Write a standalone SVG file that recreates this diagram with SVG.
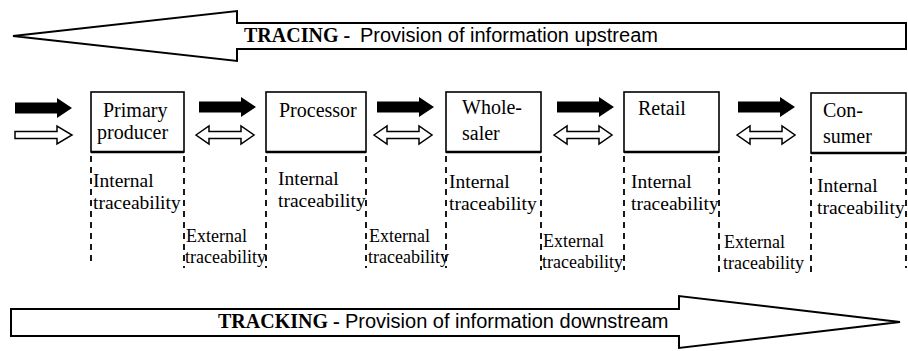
<svg xmlns="http://www.w3.org/2000/svg" width="908" height="351" viewBox="0 0 908 351">
<defs>
<style>
.big{fill:#fff;stroke:#000;stroke-width:2;stroke-linejoin:miter}
.box{fill:#fff;stroke:#000;stroke-width:1.6}
.bb{stroke:#000;stroke-width:2.6}
.dash{stroke:#000;stroke-width:1.8;stroke-dasharray:6 5;fill:none}
.bt{font-family:"Liberation Serif","Times New Roman",serif;font-size:20px;fill:#000}
.tt{font-family:"Liberation Serif","Times New Roman",serif;font-size:19.5px;fill:#000}
.et{font-family:"Liberation Serif","Times New Roman",serif;font-size:18px;fill:#000}
.hb{font-family:"Liberation Serif","Times New Roman",serif;font-size:20px;font-weight:bold;fill:#000}
.hs{font-family:"Liberation Sans",Arial,sans-serif;font-size:20px;fill:#000}
.blk{fill:#000}
.wht{fill:#fff;stroke:#000;stroke-width:1.5}
</style>
<path id="ba" d="M0,-5.5 H42 V-10 L57,0 L42,10 V5.5 H0 Z"/>
<path id="wa" d="M0,-3.5 H42 V-9 L57,0 L42,9 V3.5 H0 Z"/>
<path id="da" d="M0,0 L13,-9 V-3.5 H45 V-9 L58,0 L45,9 V3.5 H13 V9 Z"/>
</defs>

<g id="tracing">
<path class="big" d="M13,36 L237,11 V23 H906 V49 H237 V61 Z"/>
<text class="hb" x="244" y="42">TRACING -</text>
<text class="hs" x="360" y="42">Provision of information upstream</text>
</g>

<g id="tracking">
<path class="big" d="M11,309 H679 V296 L900,322 L679,348 V336 H11 Z"/>
<text class="hb" x="218" y="328">TRACKING -</text>
<text class="hs" x="345" y="328">Provision of information downstream</text>
</g>

<g id="primary-producer">
<rect class="box" x="91" y="92" width="93" height="60"/>
<line class="bb" x1="91" y1="152" x2="184" y2="152"/>
<text class="bt" x="103" y="117">Primary</text>
<text class="bt" x="97" y="139">producer</text>
</g>

<g id="processor">
<rect class="box" x="266" y="92" width="100" height="60"/>
<line class="bb" x1="266" y1="152" x2="366" y2="152"/>
<text class="bt" x="279" y="117">Processor</text>
</g>

<g id="wholesaler">
<rect class="box" x="446" y="92" width="95" height="60"/>
<line class="bb" x1="446" y1="152" x2="541" y2="152"/>
<text class="bt" x="462" y="114">Whole-</text>
<text class="bt" x="462" y="140">saler</text>
</g>

<g id="retail">
<rect class="box" x="624" y="92" width="95" height="60"/>
<line class="bb" x1="624" y1="152" x2="719" y2="152"/>
<text class="bt" x="638" y="115">Retail</text>
</g>

<g id="consumer">
<rect class="box" x="811" y="93" width="95" height="60"/>
<line class="bb" x1="811" y1="153" x2="906" y2="153"/>
<text class="bt" x="823" y="117">Con-</text>
<text class="bt" x="823" y="143">sumer</text>
</g>

<g id="connectors">
<use href="#ba" class="blk" x="15" y="108"/>
<use href="#wa" class="wht" x="15" y="135"/>
<use href="#ba" class="blk" x="199" y="107"/>
<use href="#da" class="wht" x="196" y="135"/>
<use href="#ba" class="blk" x="377" y="107"/>
<use href="#da" class="wht" x="374" y="135"/>
<use href="#ba" class="blk" x="557" y="107"/>
<use href="#da" class="wht" x="554" y="135"/>
<use href="#ba" class="blk" x="738" y="107"/>
<use href="#da" class="wht" x="737" y="135"/>
</g>

<g id="traceability">
<line class="dash" x1="91" y1="156" x2="91" y2="266"/>
<line class="dash" x1="184" y1="156" x2="184" y2="268"/>
<line class="dash" x1="266" y1="156" x2="266" y2="268"/>
<line class="dash" x1="366" y1="156" x2="366" y2="268"/>
<line class="dash" x1="446" y1="156" x2="446" y2="268"/>
<line class="dash" x1="541" y1="156" x2="541" y2="270"/>
<line class="dash" x1="624" y1="156" x2="624" y2="270"/>
<line class="dash" x1="719" y1="156" x2="719" y2="272"/>
<line class="dash" x1="811" y1="156" x2="811" y2="272"/>
<line class="dash" x1="906" y1="156" x2="906" y2="268"/>

<text class="tt" x="93" y="187">Internal</text>
<text class="tt" x="93" y="209">traceability</text>
<text class="tt" x="278" y="185">Internal</text>
<text class="tt" x="278" y="207">traceability</text>
<text class="tt" x="449" y="188">Internal</text>
<text class="tt" x="449" y="210">traceability</text>
<text class="tt" x="631" y="188">Internal</text>
<text class="tt" x="631" y="210">traceability</text>
<text class="tt" x="817" y="192">Internal</text>
<text class="tt" x="817" y="214">traceability</text>

<text class="et" x="186" y="242">External</text>
<text class="et" x="185" y="263">traceability</text>
<text class="et" x="369" y="242">External</text>
<text class="et" x="368" y="263">traceability</text>
<text class="et" x="543" y="247">External</text>
<text class="et" x="542" y="268">traceability</text>
<text class="et" x="724" y="248">External</text>
<text class="et" x="723" y="269">traceability</text>
</g>
</svg>
